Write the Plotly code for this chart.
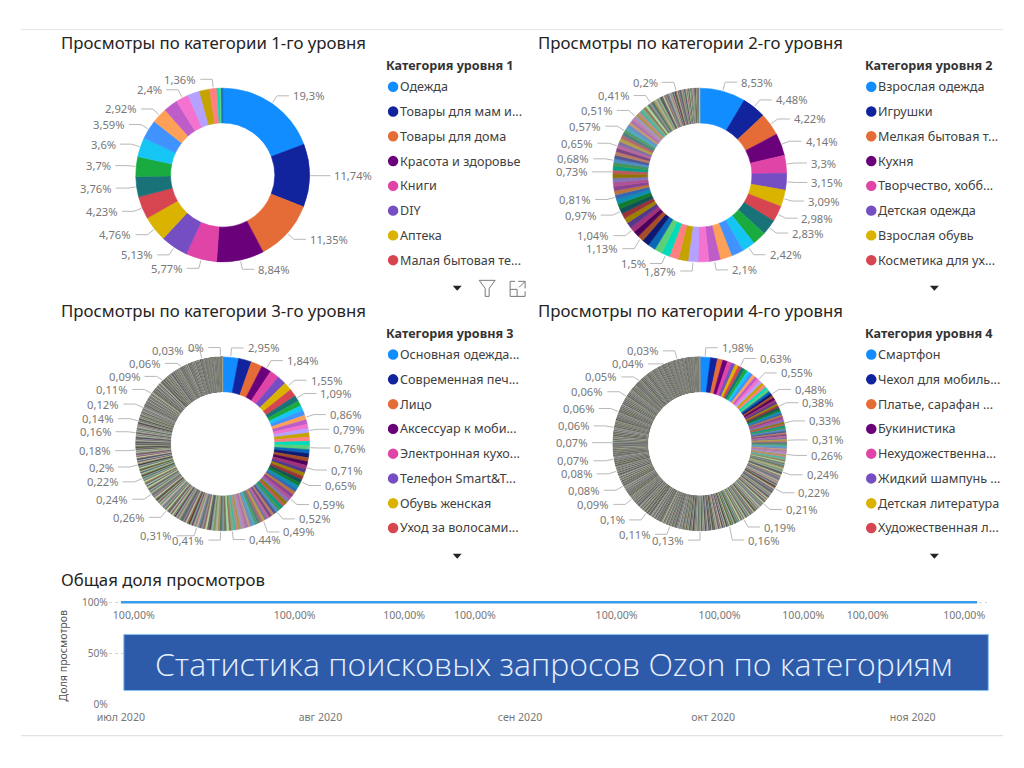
import math
import plotly.graph_objects as go

W, H = 1024, 768

# ---------------- DATA ----------------
# Level 1 categories (slice values in %, label shown or "")
cat1_values = [19.3, 11.74, 11.35, 8.84, 5.77, 5.13, 4.76, 4.23, 3.76, 3.7, 3.6, 3.59,
               2.92, 2.63, 2.4, 2.2, 1.9, 1.36, 0.5, 0.33, 0.22]
cat1_labels = ["19,3%", "11,74%", "11,35%", "8,84%", "5,77%", "5,13%", "4,76%", "4,23%",
               "3,76%", "3,7%", "3,6%", "3,59%", "2,92%", "", "2,4%", "", "", "1,36%", "", "", ""]

# Level 2..4 categories as runs: (value %, count, label)
cat2_runs = [(8.53, 1, "8,53%"), (4.48, 1, "4,48%"), (4.22, 1, "4,22%"), (4.14, 1, "4,14%"),
             (3.3, 1, "3,3%"), (3.15, 1, "3,15%"), (3.09, 1, "3,09%"), (2.98, 1, "2,98%"),
             (2.83, 1, "2,83%"), (2.6, 1, ""), (2.42, 1, "2,42%"), (2.3, 1, ""), (2.2, 1, ""),
             (2.1, 1, "2,1%"), (2.0, 1, ""), (1.87, 1, "1,87%"), (1.8, 1, ""), (1.72, 1, ""),
             (1.5, 1, "1,5%"), (1.45, 1, ""), (1.4, 1, ""), (1.35, 1, ""), (1.13, 1, "1,13%"),
             (1.1, 1, ""), (1.04, 1, "1,04%"), (1.02, 1, ""), (1.0, 1, ""), (0.98, 1, ""),
             (0.97, 1, "0,97%"), (0.95, 1, ""), (0.9, 1, ""), (0.81, 1, "0,81%"),
             (0.8, 1, ""), (0.79, 1, ""), (0.78, 1, ""), (0.77, 1, ""), (0.76, 1, ""),
             (0.73, 1, "0,73%"), (0.71, 1, ""), (0.7, 1, ""), (0.68, 1, "0,68%"),
             (0.67, 2, ""), (0.66, 1, ""), (0.65, 1, "0,65%"), (0.64, 1, ""), (0.63, 1, ""),
             (0.62, 1, ""), (0.61, 1, ""), (0.57, 1, "0,57%"), (0.56, 1, ""), (0.55, 1, ""),
             (0.54, 1, ""), (0.53, 1, ""), (0.52, 1, ""), (0.51, 1, "0,51%"), (0.5, 1, ""),
             (0.49, 1, ""), (0.48, 1, ""), (0.47, 1, ""), (0.46, 1, ""), (0.45, 1, ""),
             (0.44, 1, ""), (0.41, 1, "0,41%"), (0.4, 1, ""), (0.38, 1, ""), (0.36, 1, ""),
             (0.34, 1, ""), (0.32, 1, ""), (0.3, 1, ""), (0.28, 1, ""), (0.27, 1, ""),
             (0.26, 1, ""), (0.25, 1, ""), (0.24, 1, ""), (0.23, 1, ""), (0.22, 1, ""),
             (0.21, 3, ""), (0.2, 2, ""), (0.2, 1, "0,2%"), (0.19, 4, ""), (0.17, 4, ""),
             (0.15, 5, ""), (0.12, 5, ""), (0.1, 6, ""), (0.08, 6, ""), (0.05, 8, "")]

cat3_runs = [(2.95, 1, "2,95%"), (2.4, 1, ""), (2.1, 1, ""), (1.84, 1, "1,84%"), (1.75, 1, ""),
             (1.65, 1, ""), (1.55, 1, "1,55%"), (1.4, 1, ""), (1.09, 1, "1,09%"), (1.0, 1, ""),
             (0.95, 1, ""), (0.9, 1, ""), (0.86, 1, "0,86%"), (0.84, 1, ""), (0.82, 1, ""),
             (0.79, 1, "0,79%"), (0.78, 1, ""), (0.77, 2, ""), (0.76, 1, "0,76%"), (0.75, 1, ""),
             (0.74, 1, ""), (0.73, 1, ""), (0.72, 1, ""), (0.71, 1, "0,71%"), (0.7, 1, ""),
             (0.68, 1, ""), (0.67, 1, ""), (0.65, 1, "0,65%"), (0.64, 1, ""), (0.63, 1, ""),
             (0.62, 1, ""), (0.61, 1, ""), (0.6, 1, ""), (0.59, 1, "0,59%"), (0.58, 1, ""),
             (0.57, 1, ""), (0.56, 1, ""), (0.55, 1, ""), (0.54, 1, ""), (0.52, 1, "0,52%"),
             (0.51, 1, ""), (0.5, 3, ""), (0.49, 1, ""), (0.49, 1, "0,49%"), (0.48, 2, ""),
             (0.47, 2, ""), (0.46, 2, ""), (0.45, 4, ""), (0.44, 2, ""), (0.44, 1, "0,44%"),
             (0.44, 1, ""), (0.43, 1, ""), (0.42, 2, ""), (0.41, 1, "0,41%"), (0.41, 1, ""),
             (0.4, 2, ""), (0.39, 1, ""), (0.38, 1, ""), (0.37, 1, ""), (0.36, 1, ""),
             (0.35, 1, ""), (0.34, 1, ""), (0.33, 1, ""), (0.32, 1, ""), (0.31, 1, "0,31%"),
             (0.31, 4, ""), (0.3, 4, ""), (0.29, 4, ""), (0.28, 4, ""), (0.27, 5, ""),
             (0.26, 1, "0,26%"), (0.26, 5, ""), (0.25, 10, ""), (0.24, 1, "0,24%"), (0.24, 6, ""),
             (0.23, 7, ""), (0.22, 1, "0,22%"), (0.22, 6, ""), (0.21, 5, ""), (0.2, 1, "0,2%"),
             (0.2, 7, ""), (0.19, 6, ""), (0.18, 1, "0,18%"), (0.18, 8, ""), (0.17, 9, ""),
             (0.16, 1, "0,16%"), (0.16, 7, ""), (0.15, 6, ""), (0.14, 1, "0,14%"), (0.14, 9, ""),
             (0.13, 9, ""), (0.12, 1, "0,12%"), (0.12, 13, ""), (0.11, 12, ""), (0.11, 1, "0,11%"),
             (0.11, 10, ""), (0.1, 19, ""), (0.09, 1, "0,09%"), (0.09, 15, ""), (0.08, 18, ""),
             (0.07, 19, ""), (0.06, 1, "0,06%"), (0.06, 25, ""), (0.05, 30, ""), (0.04, 25, ""),
             (0.03, 1, "0,03%"), (0.03, 40, ""), (0.02, 60, ""), (0.01, 100, ""),
             (0.004, 1, "0%"), (0.004, 100, "")]

cat4_runs = [(1.98, 1, "1,98%"), (1.3, 1, ""), (1.0, 1, ""), (0.9, 1, ""), (0.8, 1, ""),
             (0.72, 1, ""), (0.66, 1, ""), (0.63, 1, "0,63%"), (0.62, 1, ""), (0.61, 1, ""),
             (0.6, 1, ""), (0.59, 1, ""), (0.58, 1, ""), (0.57, 1, ""), (0.55, 1, "0,55%"),
             (0.54, 1, ""), (0.53, 1, ""), (0.52, 1, ""), (0.51, 1, ""), (0.5, 1, ""),
             (0.49, 1, ""), (0.48, 1, "0,48%"), (0.46, 1, ""), (0.44, 1, ""), (0.42, 1, ""),
             (0.4, 1, ""), (0.39, 1, ""), (0.38, 1, "0,38%"), (0.37, 2, ""), (0.36, 2, ""),
             (0.35, 2, ""), (0.34, 2, ""), (0.33, 1, "0,33%"), (0.33, 2, ""), (0.32, 3, ""),
             (0.31, 4, ""), (0.31, 1, "0,31%"), (0.3, 2, ""), (0.29, 2, ""), (0.28, 2, ""),
             (0.27, 2, ""), (0.26, 1, "0,26%"), (0.26, 4, ""), (0.25, 8, ""), (0.24, 1, "0,24%"),
             (0.24, 5, ""), (0.23, 8, ""), (0.22, 1, "0,22%"), (0.22, 9, ""), (0.21, 6, ""),
             (0.21, 1, "0,21%"), (0.21, 6, ""), (0.2, 16, ""), (0.19, 1, "0,19%"), (0.19, 6, ""),
             (0.18, 5, ""), (0.17, 4, ""), (0.16, 1, "0,16%"), (0.16, 9, ""), (0.15, 12, ""),
             (0.14, 15, ""), (0.13, 1, "0,13%"), (0.13, 20, ""), (0.12, 24, ""), (0.11, 1, "0,11%"),
             (0.11, 22, ""), (0.1, 24, ""), (0.1, 1, "0,1%"), (0.1, 16, ""), (0.09, 22, ""),
             (0.09, 1, "0,09%"), (0.09, 10, ""), (0.08, 23, ""), (0.08, 1, "0,08%"), (0.08, 36, ""),
             (0.08, 1, "0,08%"), (0.08, 12, ""), (0.07, 17, ""), (0.07, 1, "0,07%"), (0.07, 42, ""),
             (0.07, 1, "0,07%"), (0.07, 14, ""), (0.06, 29, ""), (0.06, 1, "0,06%"), (0.06, 49, ""),
             (0.06, 1, "0,06%"), (0.06, 51, ""), (0.06, 1, "0,06%"), (0.06, 20, ""), (0.05, 49, ""),
             (0.05, 1, "0,05%"), (0.05, 60, ""), (0.04, 59, ""), (0.04, 1, "0,04%"), (0.04, 40, ""),
             (0.03, 32, ""), (0.03, 1, "0,03%"), (0.03, 60, ""), (0.02, 70, ""), (0.01, 98, "")]

legend1_title = "Категория уровня 1"
legend1_items = ["Одежда", "Товары для мам и...", "Товары для дома", "Красота и здоровье",
                 "Книги", "DIY", "Аптека", "Малая бытовая те..."]
legend2_title = "Категория уровня 2"
legend2_items = ["Взрослая одежда", "Игрушки", "Мелкая бытовая т...", "Кухня",
                 "Творчество, хобб...", "Детская одежда", "Взрослая обувь", "Косметика для ух..."]
legend3_title = "Категория уровня 3"
legend3_items = ["Основная одежда...", "Современная печ...", "Лицо", "Аксессуар к моби...",
                 "Электронная кухо...", "Телефон Smart&T...", "Обувь женская", "Уход за волосами..."]
legend4_title = "Категория уровня 4"
legend4_items = ["Смартфон", "Чехол для мобиль...", "Платье, сарафан ...", "Букинистика",
                 "Нехудожественна...", "Жидкий шампунь ...", "Детская литература", "Художественная л..."]

titles = ["Просмотры по категории 1-го уровня", "Просмотры по категории 2-го уровня",
          "Просмотры по категории 3-го уровня", "Просмотры по категории 4-го уровня"]

share_dates = ["2020-07-01", "2020-07-03", "2020-07-28", "2020-08-14", "2020-08-25",
               "2020-09-16", "2020-10-02", "2020-10-15", "2020-10-25", "2020-11-09", "2020-11-11"]
share_values = [1.0, 1.0, 1.0, 1.0, 1.0, 1.0, 1.0, 1.0, 1.0, 1.0, 1.0]
share_labels = ["", "100,00%", "100,00%", "100,00%", "100,00%", "100,00%", "100,00%",
                "100,00%", "100,00%", "100,00%", ""]
month_ticks = ["2020-07-01", "2020-08-01", "2020-09-01", "2020-10-01", "2020-11-01"]
month_labels = ["июл 2020", "авг 2020", "сен 2020", "окт 2020", "ноя 2020"]


def expand(runs):
    vals, labs = [], []
    for v, n, lab in runs:
        for k in range(n):
            vals.append(v)
            labs.append(lab if k == n - 1 else "")
    return vals, labs


cat2_values, cat2_labels = expand(cat2_runs)
cat3_values, cat3_labels = expand(cat3_runs)
cat4_values, cat4_labels = expand(cat4_runs)

# ---------------- STYLE ----------------
FONT = "Noto Sans"
BASE = ["#118DFF", "#12239E", "#E66C37", "#6B007B", "#E044A7", "#744EC2", "#D9B300", "#D64550",
        "#197278", "#1AAB40", "#15C6F4", "#4092FF", "#FFA058", "#BE5DC9", "#F472D0", "#B5A1FF",
        "#C4A200", "#FF8080", "#00DBBC", "#5BD078"]


def h2rgb(h):
    h = h.lstrip("#")
    return [int(h[i:i + 2], 16) for i in (0, 2, 4)]


def rgb2h(c):
    return "#%02x%02x%02x" % tuple(max(0, min(255, int(round(v)))) for v in c)


def palette(n):
    cols = list(BASE)
    cols += [rgb2h([v * 0.72 for v in h2rgb(c)]) for c in BASE]
    cols += [rgb2h([v * 0.5 + 140 * 0.5 for v in h2rgb(c)]) for c in BASE]
    while len(cols) < n:
        k = len(cols)
        g = 60 + (k * 53) % 130
        amp = 70 if k < 150 else 40
        cols.append(rgb2h([g + ((k * 29) % amp) - amp * 0.4,
                           g + ((k * 47) % amp) - amp * 0.35,
                           g + ((k * 13) % amp) - amp * 0.55]))
    return cols[:n]


# display-pixel -> paper transform (compensates the photographed page framing)
SX, OX = 0.99, 11.0
SY, OY = 0.984, 4.5


def px(x):
    return ((x - OX) / SX) / W


def py(y):
    return 1 - ((y - OY) / SY) / H


fig = go.Figure()
shapes, annotations = [], []

R = 87
HOLE = 0.6
donuts = [
    (cat1_values, cat1_labels, 222, 176),
    (cat2_values, cat2_labels, 700, 176),
    (cat3_values, cat3_labels, 222, 444),
    (cat4_values, cat4_labels, 700, 444),
]

for vals, labs, cx, cy in donuts:
    cols = palette(len(vals))
    fig.add_trace(go.Pie(
        values=vals, sort=False, direction="clockwise", hole=HOLE,
        marker=dict(colors=cols, line=dict(width=0.6, color=cols)),
        textinfo="none", hoverinfo="skip", showlegend=False,
        domain=dict(x=[px(cx - R), px(cx + R)], y=[py(cy + R), py(cy - R)]),
    ))
    total = sum(vals)
    cum = 0.0
    items = []
    for v, lab in zip(vals, labs):
        mid = (cum + v / 2) / total * 2 * math.pi
        cum += v
        if not lab:
            continue
        s, c = math.sin(mid), math.cos(mid)
        x0, y0 = cx + (R + 1) * s, cy - (R + 1) * c
        x1, y1 = cx + (R + 9) * s, cy - (R + 9) * c
        right = s > 0.04
        x2 = x1 + 12 if right else x1 - 12
        w = 6.2 * len(lab)
        xr = [x2 + 2, x2 + 2 + w] if right else [x2 - 2 - w, x2 - 2]
        items.append(dict(lab=lab, x0=x0, y0=y0, x1=x1, y=y1, x2=x2, right=right, xr=xr, c=c))
    # simple collision avoidance
    items.sort(key=lambda d: d["y"])
    placed = []
    for it in items:
        for _ in range(20):
            changed = False
            for p in placed:
                ov = min(p["xr"][1], it["xr"][1]) - max(p["xr"][0], it["xr"][0])
                if ov > 1 and abs(it["y"] - p["y"]) < 13:
                    if abs(it["c"]) > 0.95 and abs(p["c"]) > 0.95 and p["right"] == it["right"]:
                        outer = p if abs(sum(p["xr"]) / 2 - cx) > abs(sum(it["xr"]) / 2 - cx) else it
                        d = (ov + 1) * (1 if outer["right"] else -1)
                        outer["x2"] += d
                        outer["xr"] = [outer["xr"][0] + d, outer["xr"][1] + d]
                    else:
                        it["y"] = p["y"] + 13
                    changed = True
            if not changed:
                break
        placed.append(it)
    for it in items:
        shapes.append(dict(type="path", xref="paper", yref="paper",
                           path=f"M {px(it['x0'])} {py(it['y0'])} L {px(it['x1'])} {py(it['y'])} "
                                f"L {px(it['x2'])} {py(it['y'])}",
                           line=dict(color="#b8b8b8", width=1)))
        annotations.append(dict(x=px(it["x2"] + (2 if it["right"] else -2)), y=py(it["y"]),
                                xref="paper", yref="paper", text=it["lab"], showarrow=False,
                                xanchor="left" if it["right"] else "right", yanchor="middle",
                                font=dict(family=FONT, size=11.2, color="#777777")))

# titles
for t, (tx, ty) in zip(titles, [(58, 44), (536, 44), (58, 311), (536, 311)]):
    annotations.append(dict(x=px(tx), y=py(ty), xref="paper", yref="paper", text=t, showarrow=False,
                            xanchor="left", yanchor="middle",
                            font=dict(family=FONT, size=16.8, color="#252423")))
annotations.append(dict(x=px(58), y=py(579), xref="paper", yref="paper", text="Общая доля просмотров",
                        showarrow=False, xanchor="left", yanchor="middle",
                        font=dict(family=FONT, size=16.8, color="#252423")))

# legends
legend_cols = palette(8)
for title, items_, lx, ly in [(legend1_title, legend1_items, 385, 67), (legend2_title, legend2_items, 864, 67),
                              (legend3_title, legend3_items, 385, 334), (legend4_title, legend4_items, 864, 334)]:
    annotations.append(dict(x=px(lx - 1), y=py(ly), xref="paper", yref="paper", text="<b>" + title + "</b>",
                            showarrow=False, xanchor="left", yanchor="middle",
                            font=dict(family=FONT, size=12.6, color="#333333")))
    for i, (name, col) in enumerate(zip(items_, legend_cols)):
        yy = ly + 21 + i * 24.7
        shapes.append(dict(type="circle", xref="paper", yref="paper", x0=px(lx + 2.5), x1=px(lx + 13),
                           y0=py(yy + 5.2), y1=py(yy - 5.2), fillcolor=col, line=dict(width=0)))
        annotations.append(dict(x=px(lx + 13), y=py(yy), xref="paper", yref="paper", text=name,
                                showarrow=False, xanchor="left", yanchor="middle",
                                font=dict(family=FONT, size=12.6, color="#404040")))
    ax = lx + 72 if lx < 500 else lx + 71
    ay = ly + 222
    shapes.append(dict(type="path", xref="paper", yref="paper",
                       path=f"M {px(ax - 4.5)} {py(ay - 2.5)} L {px(ax + 4.5)} {py(ay - 2.5)} L {px(ax)} {py(ay + 2.5)} Z",
                       fillcolor="#252423", line=dict(width=0)))

# filter & focus icons (panel 1)
shapes.append(dict(type="path", xref="paper", yref="paper",
                   path=f"M {px(479)} {py(281)} L {px(495)} {py(281)} L {px(489)} {py(289)} L {px(489)} {py(297)} "
                        f"L {px(485)} {py(297)} L {px(485)} {py(289)} Z",
                   line=dict(color="#777777", width=1), fillcolor="rgba(0,0,0,0)"))
shapes.append(dict(type="path", xref="paper", yref="paper",
                   path=f"M {px(515)} {py(282)} L {px(510)} {py(282)} L {px(510)} {py(297)} L {px(525)} {py(297)} "
                        f"L {px(525)} {py(292)} M {px(510)} {py(290)} L {px(517)} {py(290)} L {px(517)} {py(297)} "
                        f"M {px(518)} {py(282)} L {px(525)} {py(282)} L {px(525)} {py(289)} M {px(525)} {py(282)} "
                        f"L {px(519)} {py(288)}",
                   line=dict(color="#777777", width=1)))

# separators
shapes.append(dict(type="line", xref="paper", yref="paper", x0=px(20), x1=px(1004), y0=py(31), y1=py(31),
                   line=dict(color="#e6e6e6", width=1)))
shapes.append(dict(type="line", xref="paper", yref="paper", x0=px(20), x1=px(1004), y0=py(735), y1=py(735),
                   line=dict(color="#dcdcdc", width=1)))

# line chart
fig.add_trace(go.Scatter(
    x=share_dates, y=share_values, mode="lines+markers+text", text=share_labels,
    textposition="bottom center",
    textfont=dict(family=FONT, size=10.6, color="#777777"),
    marker=dict(size=12, opacity=0),
    line=dict(color="#3A9BE8", width=2.6), hoverinfo="skip", showlegend=False,
    xaxis="x", yaxis="y"))

fig.update_layout(
    xaxis=dict(domain=[px(108), px(988)], range=["2020-06-29 03:00", "2020-11-12 14:00"],
               tickvals=month_ticks, ticktext=month_labels, showgrid=False, zeroline=False,
               showline=False, ticks="", ticklabelstandoff=5,
               tickfont=dict(family=FONT, size=10.6, color="#777777"),
               anchor="y", fixedrange=True),
    yaxis=dict(domain=[py(704), py(598)], range=[0, 1.039], tickvals=[0, 0.5, 1],
               ticktext=["0%", "50%", "100%"], showgrid=True, gridcolor="#d6d6d6", griddash="dot",
               zeroline=False, showline=False, ticks="",
               tickfont=dict(family=FONT, size=10.2, color="#777777"), anchor="x", fixedrange=True),
)

annotations.append(dict(x=px(63), y=py(655), xref="paper", yref="paper", text="Доля просмотров",
                        textangle=-90, showarrow=False, xanchor="center", yanchor="middle",
                        font=dict(family=FONT, size=10.6, color="#555555")))

# banner
shapes.append(dict(type="rect", xref="paper", yref="paper", x0=px(123), x1=px(989), y0=py(690), y1=py(634),
                   fillcolor="#2D5BAA", line=dict(color="#8CC4F2", width=1), layer="above"))
annotations.append(dict(x=px(553), y=py(663), xref="paper", yref="paper",
                        text="Статистика поисковых запросов Ozon по категориям", showarrow=False,
                        xanchor="center", yanchor="middle",
                        font=dict(family="Open Sans", size=32, color="#E6F0FF", weight=300)))

fig.update_layout(
    width=W, height=H, margin=dict(l=0, r=0, t=0, b=0), autosize=False,
    paper_bgcolor="white", plot_bgcolor="white",
    shapes=shapes, annotations=annotations, showlegend=False,
)

fig.write_html("out.html", config={"displayModeBar": False},
               post_script="document.body.style.margin='0';document.body.style.overflow='hidden';")
